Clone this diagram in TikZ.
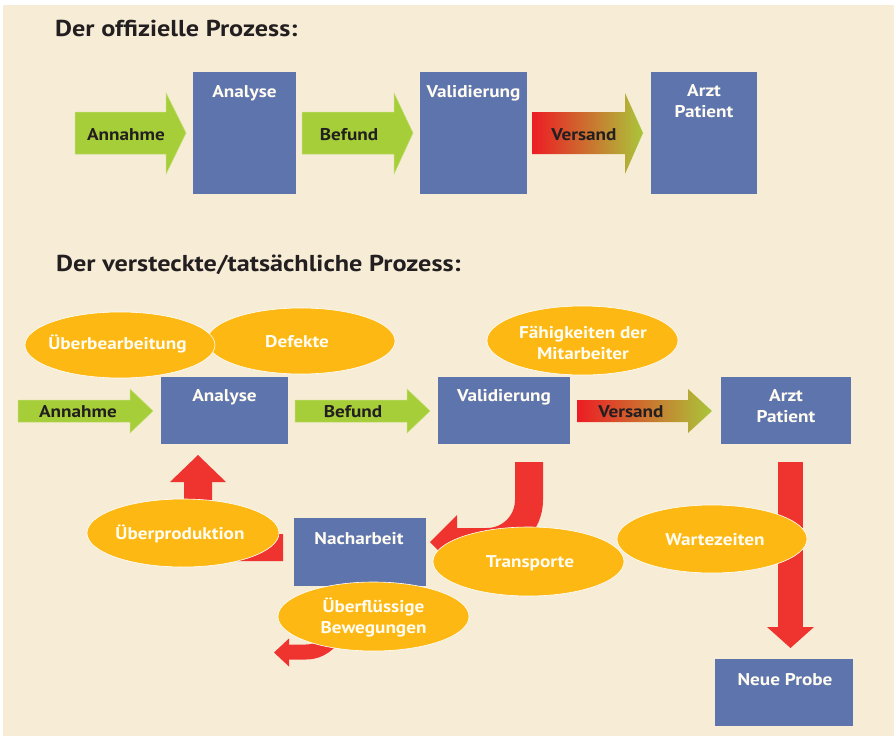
\documentclass[tikz,border=0pt]{standalone}
\usepackage{fontspec}
\setmainfont{PT Sans}
\newfontfamily\lblfont[FakeStretch=1.13]{PT Sans}
\newfontfamily\ttlfont[FakeStretch=1.14]{PT Sans}
\usetikzlibrary{shapes.geometric}
\definecolor{cream}{RGB}{247,237,215}
\definecolor{boxblue}{RGB}{94,116,173}
\definecolor{agreen}{RGB}{166,206,57}
\definecolor{ared}{RGB}{239,52,48}
\definecolor{vred}{RGB}{237,28,36}
\definecolor{vorange}{RGB}{214,128,44}
\definecolor{vgreen}{RGB}{170,198,58}
\definecolor{eorange}{RGB}{253,184,19}
\definecolor{darktext}{RGB}{35,31,32}
\definecolor{wtext}{RGB}{255,252,242}
\tikzset{
  box/.style={fill=boxblue, draw=none, inner sep=0pt, anchor=north west},
  oval/.style={ellipse, fill=eorange, draw=white, line width=0.6pt, inner sep=0pt},
  boxlbl/.style={anchor=base, inner sep=0pt, text=wtext, font=\lblfont\bfseries\fontsize{17}{21}\selectfont, align=center},
  ovallbl/.style={anchor=base, inner sep=0pt, text=wtext, font=\lblfont\bfseries\fontsize{17}{21}\selectfont, align=center},
  arrlbl/.style={anchor=base, inner sep=0pt, text=darktext, font=\lblfont\bfseries\fontsize{17}{21}\selectfont},
  title/.style={anchor=base west, inner sep=0pt, text=darktext, font=\ttlfont\bfseries\fontsize{23}{27}\selectfont},
  greenarrow/.style={fill=agreen, draw=agreen!70!white, line width=0.5pt},
  redshape/.style={fill=ared, draw=none},
  redline/.style={draw=ared, line cap=butt},
}
\begin{document}
\begin{tikzpicture}[x=1pt,y=1pt]
\useasboundingbox (0,0) rectangle (894,-736);
\fill[white] (0,0) rectangle (894,-736);
\fill[cream] (3,-5) rectangle (894,-736);

% ---------- titles ----------
\node[title] (title1) at (55,-36) {Der offizielle Prozess:};
\node[title] (title2) at (56,-271) {Der versteckte/tatsächliche Prozess:};

% ---------- official process ----------
\path[greenarrow] (75,-112) -- (166,-112) -- (166,-93) -- (186,-133) -- (166,-174) -- (166,-154) -- (75,-154) -- cycle;
\path[greenarrow] (302,-112) -- (394,-112) -- (394,-93) -- (413,-133) -- (394,-174) -- (394,-154) -- (302,-154) -- cycle;
\shade[left color=vred, middle color=vorange, right color=vgreen] (532,-112) -- (625,-112) -- (625,-93) -- (643,-133) -- (625,-174) -- (625,-154) -- (532,-154) -- cycle;

\node[box, minimum width=103pt, minimum height=122pt] (ana1) at (193,-72) {};
\node[box, minimum width=107pt, minimum height=122pt] (val1) at (420,-72) {};
\node[box, minimum width=106pt, minimum height=122pt] (arzt1) at (651,-72) {};

\node[boxlbl] (ana1l) at (244.5,-97) {Analyse};
\node[boxlbl] (val1l) at (473.5,-97) {Validierung};
\node[boxlbl] (arzt1l) at (704,-117) {Arzt\\Patient};

\node[arrlbl] (ann1l) at (126,-140) {Annahme};
\node[arrlbl] (bef1l) at (349,-140) {Befund};
\node[arrlbl] (ver1l) at (584,-140) {Versand};

% ---------- hidden process: red arrows (behind) ----------
% Ueberproduktion -> Analyse
\path[redshape] (184,-482) -- (212,-482) -- (212,-534) -- (283,-534) -- (283,-561) -- (184,-561) -- cycle;
\path[redshape] (170,-482) -- (226,-482) -- (198,-455) -- cycle;
% Transporte: Validierung -> Nacharbeit
\draw[redline, line width=28pt] (529,-462) -- (529,-500) arc[start angle=0, end angle=-90, radius=42] -- (456,-542);
\path[redshape] (457,-515) -- (457,-569) -- (430,-542) -- cycle;
% Ueberfluessige Bewegungen
\draw[redline, line width=15pt] (338,-612) -- (338,-620) arc[start angle=0, end angle=-90, radius=32] -- (288,-652);
\path[redshape] (289,-638.5) -- (289,-666.5) -- (274,-652.5) -- cycle;
% Wartezeiten: Arzt -> Neue Probe
\path[redshape] (778,-462) rectangle (803,-628);
\path[redshape] (767,-627) -- (814,-627) -- (790.5,-648) -- cycle;

% ---------- hidden process: arrows ----------
\path[greenarrow] (18,-400) -- (130,-400) -- (130,-389) -- (153,-411) -- (130,-433) -- (130,-422) -- (18,-422) -- cycle;
\path[greenarrow] (295,-400) -- (407,-400) -- (407,-389) -- (430,-411) -- (407,-433) -- (407,-422) -- (295,-422) -- cycle;
\shade[left color=vred, middle color=vorange, right color=vgreen] (577,-400) -- (688,-400) -- (688,-389) -- (712,-411) -- (688,-433) -- (688,-422) -- (577,-422) -- cycle;

% ---------- boxes ----------
\node[box, minimum width=127pt, minimum height=67pt] (ana2) at (161,-377) {};
\node[box, minimum width=132pt, minimum height=67pt] (val2) at (438,-377) {};
\node[box, minimum width=130pt, minimum height=67pt] (arzt2) at (721,-377) {};
\node[box, minimum width=132pt, minimum height=68pt] (nach) at (294,-518) {};
\node[box, minimum width=138pt, minimum height=67pt] (neue) at (715,-659) {};

\node[boxlbl] (ana2l) at (224.5,-401) {Analyse};
\node[boxlbl] (val2l) at (504,-401) {Validierung};
\node[boxlbl] (arzt2l) at (786,-422) {Arzt\\Patient};
\node[boxlbl] (nachl) at (359,-544) {Nacharbeit};
\node[boxlbl] (neuel) at (785,-685) {Neue Probe};

\node[arrlbl] (ann2l) at (78,-417) {Annahme};
\node[arrlbl] (bef2l) at (353,-417) {Befund};
\node[arrlbl] (ver2l) at (631,-417) {Versand};

% ---------- ellipses ----------
\node[oval, minimum width=188pt, minimum height=66pt] (defekte) at (301,-341) {};
\node[oval, minimum width=190pt, minimum height=66pt] (ueberb) at (120,-345) {};
\node[oval, minimum width=191pt, minimum height=69pt] (faehig) at (582.5,-340.5) {};
\node[oval, minimum width=192pt, minimum height=68pt] (ueberp) at (183,-533) {};
\node[oval, minimum width=191pt, minimum height=69pt] (transp) at (528.5,-561.5) {};
\node[oval, minimum width=190pt, minimum height=68pt] (warte) at (712,-539) {};
\node[oval, minimum width=191pt, minimum height=69pt] (ueberf) at (373.5,-616.5) {};

\node[ovallbl] (ueberbl) at (117.5,-349) {Überbearbeitung};
\node[ovallbl] (defektel) at (297,-347) {Defekte};
\node[ovallbl] (faehigl) at (583,-359) {Fähigkeiten der\\Mitarbeiter};
\node[ovallbl] (ueberpl) at (180,-539) {Überproduktion};
\node[ovallbl] (transpl) at (530,-567) {Transporte};
\node[ovallbl] (wartel) at (715,-545) {Wartezeiten};
\node[ovallbl] (ueberfl) at (373.5,-633) {Überflüssige\\Bewegungen};
\end{tikzpicture}
\end{document}
